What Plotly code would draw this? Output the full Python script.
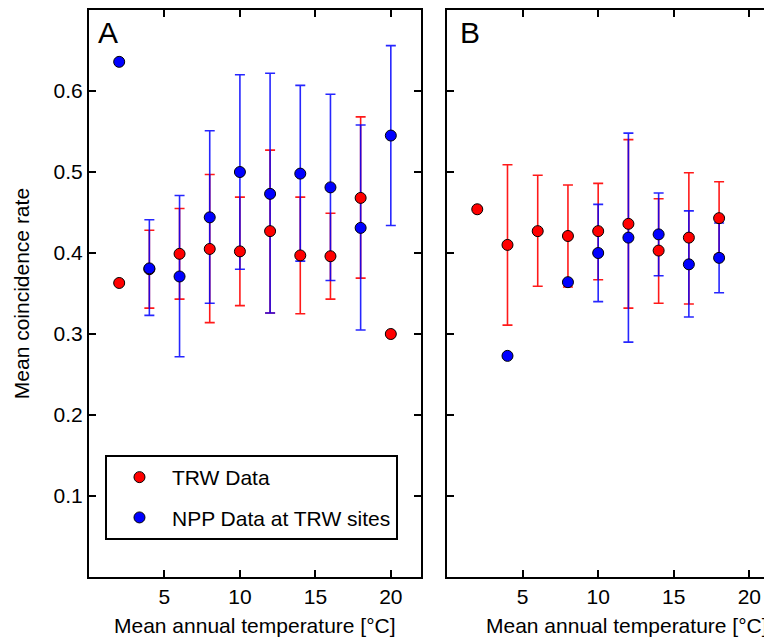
import plotly.graph_objects as go

# panel A: all sites
temps_a = [2, 4, 6, 8, 10, 12, 14, 16, 18, 20]
trw_a_mean = [0.363, 0.380, 0.399, 0.405, 0.402, 0.427, 0.397, 0.396, 0.468, 0.300]
trw_a_hi = [None, 0.428, 0.455, 0.497, 0.469, 0.527, 0.469, 0.449, 0.568, None]
trw_a_lo = [None, 0.332, 0.343, 0.314, 0.335, 0.326, 0.325, 0.343, 0.369, None]
npp_a_mean = [0.636, 0.381, 0.371, 0.444, 0.500, 0.473, 0.498, 0.481, 0.431, 0.545]
npp_a_hi = [None, 0.441, 0.471, 0.551, 0.620, 0.622, 0.607, 0.596, 0.558, 0.656]
npp_a_lo = [None, 0.323, 0.272, 0.338, 0.380, 0.326, 0.390, 0.366, 0.305, 0.434]

# panel B
temps_b = [2, 4, 6, 8, 10, 12, 14, 16, 18]
trw_b_mean = [0.454, 0.410, 0.427, 0.421, 0.427, 0.436, 0.403, 0.419, 0.443]
trw_b_hi = [None, 0.509, 0.496, 0.484, 0.486, 0.540, 0.467, 0.499, 0.488]
trw_b_lo = [None, 0.311, 0.359, 0.358, 0.367, 0.332, 0.338, 0.337, 0.398]
npp_b_temps = [4, 8, 10, 12, 14, 16, 18]
npp_b_mean = [0.273, 0.364, 0.400, 0.419, 0.423, 0.386, 0.394]
npp_b_hi = [None, None, 0.460, 0.548, 0.474, 0.452, 0.437]
npp_b_lo = [None, None, 0.340, 0.290, 0.372, 0.321, 0.351]

x_ticks = [5, 10, 15, 20]
y_ticks = [0.1, 0.2, 0.3, 0.4, 0.5, 0.6]

RED = "#ff0000"
BLUE = "#0000ff"
FONT = "Liberation Sans, Arial, sans-serif"


def spread(mean, hi, lo):
    plus = [None if h is None else h - m for m, h in zip(mean, hi)]
    minus = [None if l is None else m - l for m, l in zip(mean, lo)]
    return plus, minus


def err_trace(x, mean, hi, lo, color, xa, ya):
    plus, minus = spread(mean, hi, lo)
    return go.Scatter(
        x=x, y=mean, mode="markers", xaxis=xa, yaxis=ya,
        marker=dict(size=10, opacity=0),
        error_y=dict(type="data", symmetric=False, array=plus, arrayminus=minus,
                     color=color, thickness=1.6, width=5),
        showlegend=False, hoverinfo="skip",
    )


def dot_trace(x, mean, color, xa, ya, name=None, group=None):
    return go.Scatter(
        x=x, y=mean, mode="markers", xaxis=xa, yaxis=ya,
        marker=dict(size=11, color=color, line=dict(color="black", width=1)),
        name=name, legendgroup=group, showlegend=name is not None,
    )


fig = go.Figure()
fig.add_trace(err_trace(temps_a, trw_a_mean, trw_a_hi, trw_a_lo, "rgba(255,0,0,0.9)", "x", "y"))
fig.add_trace(err_trace(temps_a, npp_a_mean, npp_a_hi, npp_a_lo, "rgba(0,0,255,0.85)", "x", "y"))
fig.add_trace(err_trace(temps_b, trw_b_mean, trw_b_hi, trw_b_lo, "rgba(255,0,0,0.9)", "x2", "y2"))
fig.add_trace(err_trace(npp_b_temps, npp_b_mean, npp_b_hi, npp_b_lo, "rgba(0,0,255,0.85)", "x2", "y2"))

fig.add_trace(dot_trace(temps_a, trw_a_mean, RED, "x", "y", "TRW Data", "trw"))
fig.add_trace(dot_trace(temps_a, npp_a_mean, BLUE, "x", "y", "NPP Data at TRW sites", "npp"))
fig.add_trace(dot_trace(temps_b, trw_b_mean, RED, "x2", "y2"))
fig.add_trace(dot_trace(npp_b_temps, npp_b_mean, BLUE, "x2", "y2"))

axis_style = dict(
    showgrid=False, zeroline=False, showline=True, linecolor="black", linewidth=2,
    ticks="inside", ticklen=7, tickwidth=1.5, tickcolor="black",
    tickfont=dict(size=21, color="black", family=FONT),
)

# page body adds an 8px margin, so the figure is 8px smaller than the window
fig.update_layout(
    width=764, height=633,
    margin=dict(l=81, r=0, t=2, b=64),
    paper_bgcolor="white", plot_bgcolor="white",
    font=dict(family=FONT, color="black"),
    xaxis=dict(domain=[0, 0.4861], range=[0, 22], tickvals=x_ticks, mirror="ticks", **axis_style),
    yaxis=dict(range=[0, 0.7], tickvals=y_ticks, mirror="ticks", **axis_style),
    xaxis2=dict(domain=[0.5242, 1], range=[0, 21.5], tickvals=x_ticks, mirror="ticks",
                anchor="y2", **axis_style),
    yaxis2=dict(range=[0, 0.7], tickvals=y_ticks, showticklabels=False, anchor="x2",
                **axis_style),
    legend=dict(
        x=0.0234, y=0.2152, xanchor="left", yanchor="top",
        bordercolor="black", borderwidth=2, bgcolor="white",
        font=dict(size=21, family=FONT, color="black"),
        tracegroupgap=10, itemwidth=55,
    ),
)

fig.add_annotation(text="Mean coincidence rate", textangle=-90, xref="paper", yref="paper",
                   x=-0.0985, y=0.5, xanchor="center", yanchor="middle", showarrow=False,
                   font=dict(size=21))
fig.add_annotation(text="Mean annual temperature [°C]", xref="paper", yref="paper",
                   x=(254.5 - 89) / 683, y=-0.0847, xanchor="center", yanchor="middle",
                   showarrow=False, font=dict(size=21))
fig.add_annotation(text="Mean annual temperature [°C]", xref="paper", yref="paper",
                   x=(626.5 - 89) / 683, y=-0.0847, xanchor="center", yanchor="middle",
                   showarrow=False, font=dict(size=21))
fig.add_annotation(text="A", xref="x domain", yref="y domain", x=0.02, y=0.961,
                   xanchor="left", yanchor="middle", showarrow=False, font=dict(size=30))
fig.add_annotation(text="B", xref="x2 domain", yref="y2 domain", x=0.035, y=0.961,
                   xanchor="left", yanchor="middle", showarrow=False, font=dict(size=30))

fig.write_html("out.html")
